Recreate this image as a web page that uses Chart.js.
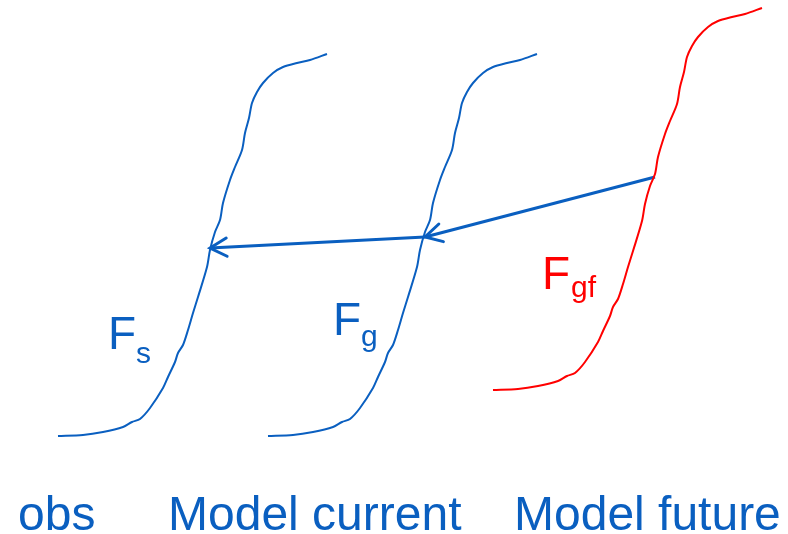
<!DOCTYPE html>
<html>
<head>
<meta charset="utf-8">
<script src="https://cdn.jsdelivr.net/npm/chart.js@4/dist/chart.umd.min.js"></script>
<style>
    html, body { margin: 0; padding: 0; background: #fff; }
    #wrap { position: relative; width: 788px; height: 534px; }
</style>
</head>
<body>
<div id="wrap"><canvas id="cdfChart"></canvas></div>
<script>
// cumulative distribution curves (x = value, y = screen position)
const obsX = [58, 83, 103, 123, 132, 140, 150, 163, 168, 175, 178, 183, 188, 193, 198, 207, 210, 215, 220, 223, 230, 235, 242, 245, 249, 252, 257, 263, 273, 283, 297, 310, 327];
const obsY = [436, 435, 432, 427, 422, 419, 408, 388, 377, 362, 353, 345, 330, 313, 297, 267, 250, 232, 220, 203, 180, 167, 150, 133, 118, 103, 92, 83, 73, 67, 63, 60, 54];

const currentX = [268, 293, 313, 333, 342, 350, 360, 373, 378, 385, 388, 393, 398, 403, 408, 417, 420, 425, 430, 433, 440, 445, 452, 455, 459, 462, 467, 473, 483, 493, 507, 520, 537];
const currentY = [436, 435, 432, 427, 422, 419, 408, 388, 377, 362, 353, 345, 330, 313, 297, 267, 250, 232, 220, 203, 180, 167, 150, 133, 118, 103, 92, 83, 73, 67, 63, 60, 54];

const futureX = [493, 518, 538, 558, 567, 575, 585, 598, 603, 610, 613, 618, 623, 628, 633, 642, 645, 650, 655, 658, 665, 670, 677, 680, 684, 687, 692, 698, 708, 718, 732, 745, 762];
const futureY = [390, 389, 386, 381, 376, 373, 362, 342, 331, 316, 307, 299, 284, 267, 251, 221, 204, 186, 174, 157, 134, 121, 104, 87, 72, 57, 46, 37, 27, 21, 17, 14, 8];

// quantile mapping arrows: future -> current -> obs
const arrowFutureX = [655, 425];
const arrowFutureY = [177, 237];
const arrowCurrentX = [425, 210];
const arrowCurrentY = [237, 248];

const groupLabels = ['obs', 'Model current', 'Model future'];

const BLUE = '#0a5fc0';
const RED = '#ff0000';
const FONT = '"Liberation Sans", Arial, Helvetica, sans-serif';

function toPoints(xs, ys) {
    return xs.map((x, i) => ({ x: x, y: ys[i] }));
}

// labels: [main, sub, x, baseline, subX, subBaseline, color]
const curveLabels = [
    ['F', 's', 108, 349, 136, 363, BLUE],
    ['F', 'g', 333, 335, 361, 346, BLUE],
    ['F', 'gf', 542, 289, 571, 297, RED]
];
const groupLabelPos = [[18, 530], [168, 530], [514, 530]];

const annotations = {
    id: 'annotations',
    afterDatasetsDraw(chart) {
        const ctx = chart.ctx;
        const xs = chart.scales.x;
        const ys = chart.scales.y;

        // open arrowheads at the end of each arrow dataset
        chart.data.datasets.forEach((ds) => {
            if (!ds.arrow) {
                return;
            }
            const n = ds.data.length;
            const tx = xs.getPixelForValue(ds.data[n - 1].x);
            const ty = ys.getPixelForValue(ds.data[n - 1].y);
            const fx = xs.getPixelForValue(ds.data[n - 2].x);
            const fy = ys.getPixelForValue(ds.data[n - 2].y);
            const ang = Math.atan2(ty - fy, tx - fx);
            const len = 19;
            ctx.save();
            ctx.strokeStyle = ds.borderColor;
            ctx.lineWidth = ds.borderWidth;
            ctx.lineCap = 'round';
            ctx.beginPath();
            ctx.moveTo(tx - len * Math.cos(ang - 0.5), ty - len * Math.sin(ang - 0.5));
            ctx.lineTo(tx, ty);
            ctx.lineTo(tx - len * Math.cos(ang + 0.5), ty - len * Math.sin(ang + 0.5));
            ctx.stroke();
            ctx.restore();
        });

        ctx.save();
        ctx.textBaseline = 'alphabetic';
        ctx.textAlign = 'left';
        curveLabels.forEach((l) => {
            ctx.fillStyle = l[6];
            ctx.font = '46px ' + FONT;
            ctx.fillText(l[0], xs.getPixelForValue(l[2]), ys.getPixelForValue(l[3]));
            ctx.font = '30px ' + FONT;
            ctx.fillText(l[1], xs.getPixelForValue(l[4]), ys.getPixelForValue(l[5]));
        });

        ctx.fillStyle = BLUE;
        ctx.font = '48px ' + FONT;
        groupLabels.forEach((t, i) => {
            ctx.fillText(t, groupLabelPos[i][0], groupLabelPos[i][1]);
        });
        ctx.restore();
    }
};

const chart = new Chart(document.getElementById('cdfChart'), {
    type: 'line',
    data: {
        datasets: [
            { label: 'F s', data: toPoints(obsX, obsY), borderColor: BLUE, borderWidth: 2, tension: 0.3 },
            { label: 'F g', data: toPoints(currentX, currentY), borderColor: BLUE, borderWidth: 2, tension: 0.3 },
            { label: 'F gf', data: toPoints(futureX, futureY), borderColor: RED, borderWidth: 2, tension: 0.3 },
            { label: 'future to current', data: toPoints(arrowFutureX, arrowFutureY), borderColor: BLUE, borderWidth: 3, tension: 0, arrow: true },
            { label: 'current to obs', data: toPoints(arrowCurrentX, arrowCurrentY), borderColor: BLUE, borderWidth: 3, tension: 0, arrow: true }
        ]
    },
    options: {
        responsive: true,
        maintainAspectRatio: false,
        animation: false,
        layout: { padding: 0 },
        elements: { point: { radius: 0, hoverRadius: 0 } },
        plugins: {
            legend: { display: false },
            tooltip: { enabled: false }
        },
        scales: {
            x: { type: 'linear', min: 0, max: 788, display: false },
            y: { type: 'linear', min: 0, max: 534, reverse: true, display: false }
        }
    },
    plugins: [annotations]
});
</script>
</body>
</html>
